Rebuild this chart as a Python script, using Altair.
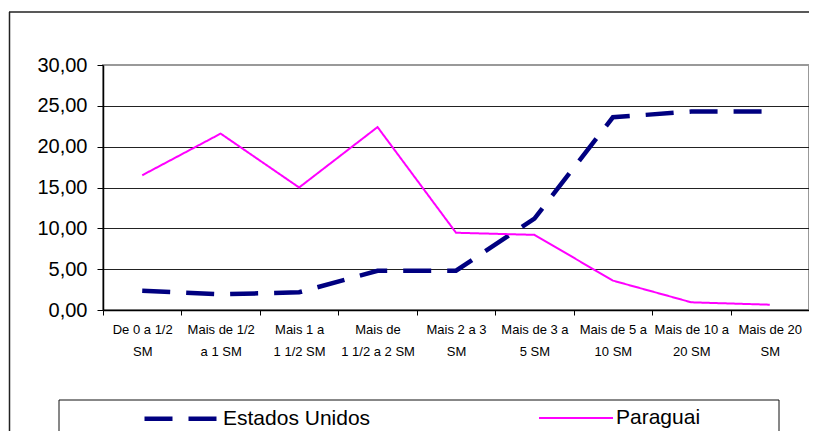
import json
import altair as alt
import pandas as pd

categories = [
    ["De 0 a 1/2", "SM"],
    ["Mais de 1/2", "a 1 SM"],
    ["Mais 1 a", "1 1/2 SM"],
    ["Mais de", "1 1/2 a 2 SM"],
    ["Mais 2 a 3", "SM"],
    ["Mais de 3 a", "5 SM"],
    ["Mais de 5 a", "10 SM"],
    ["Mais de 10 a", "20 SM"],
    ["Mais de 20", "SM"],
]
estados_unidos = [2.36, 1.92, 2.17, 4.81, 4.81, 11.2, 23.6, 24.3, 24.3]
paraguai = [16.5, 21.6, 15.0, 22.4, 9.46, 9.2, 3.6, 0.94, 0.65]
series_names = ["Estados Unidos", "Paraguai"]
y_ticks = [0, 5, 10, 15, 20, 25, 30]

rows = []
for name, vals in zip(series_names, [estados_unidos, paraguai]):
    for i, v in enumerate(vals):
        rows.append({"serie": name, "pos": i + 0.5, "valor": v})
df = pd.DataFrame(rows)

n = len(categories)
x_values = [k / 2 for k in range(2 * n + 1)]
label_expr = (
    "datum.value % 1 === 0 ? '' : "
    + json.dumps(categories, ensure_ascii=False)
    + "[floor(datum.value)]"
)

lines = alt.Chart(df).mark_line(strokeCap="butt", strokeJoin="miter").encode(
    x=alt.X(
        "pos:Q",
        scale=alt.Scale(domain=[0, n], nice=False, zero=False),
        axis=alt.Axis(
            values=x_values,
            title=None,
            grid=False,
            labelExpr=label_expr,
            labelFontSize=13,
            labelLineHeight=22,
            labelPadding=8,
            labelBaseline="top",
            labelOverlap=False,
            labelFlush=False,
            labelBound=False,
            labelColor="black",
            tickSize=5,
            tickColor="black",
            tickOpacity={"condition": {"test": "datum.value % 1 === 0", "value": 1}, "value": 0},
            domainColor="black",
            domainWidth=1.5,
        ),
    ),
    y=alt.Y(
        "valor:Q",
        scale=alt.Scale(domain=[0, 30], nice=False),
        axis=alt.Axis(
            values=y_ticks,
            title=None,
            labelExpr="replace(format(datum.value, '.2f'), '.', ',')",
            labelFontSize=20,
            labelColor="black",
            labelPadding=10,
            tickSize=6,
            tickColor="black",
            domainColor="black",
            domainWidth=1.5,
            grid=True,
            gridColor={"condition": {"test": "datum.value === 30 || datum.value === 0", "value": "transparent"}, "value": "#222222"},
            gridWidth=1,
        ),
    ),
    color=alt.Color(
        "serie:N",
        scale=alt.Scale(domain=series_names, range=["#000080", "#FF00FF"]),
        title=None,
    ),
    strokeDash=alt.StrokeDash(
        "serie:N",
        scale=alt.Scale(domain=series_names, range=[[28, 16], [1, 0]]),
        title=None,
    ),
    strokeWidth=alt.StrokeWidth(
        "serie:N",
        scale=alt.Scale(domain=series_names, range=[4.5, 2]),
        title=None,
    ),
)

deco = pd.DataFrame({"d": [0]})


def rule(x, y, x2=None, y2=None, color="black", w=1.0):
    enc = {"x": alt.value(x), "y": alt.value(y)}
    if x2 is not None:
        enc["x2"] = alt.value(x2)
    if y2 is not None:
        enc["y2"] = alt.value(y2)
    return alt.Chart(deco).mark_rule(color=color, strokeWidth=w).encode(**enc)


decorations = [
    rule(-93.5, -53, y2=420, color="#222222", w=1.5),
    rule(-94, -53, x2=800, color="#222222", w=1.5),
    rule(-44, 335, x2=676, color="#111111", w=1),
    rule(-44, 335, y2=420, color="#111111", w=1),
    rule(676, 335, y2=420, color="#111111", w=1),
]

chart = alt.layer(lines, *decorations).properties(
    width=706,
    height=245,
    autosize=alt.AutoSizeParams(type="none"),
    padding={"left": 95, "top": 57, "right": 0, "bottom": 121},
).configure(
    font="Liberation Sans",
).configure_view(
    stroke="#999999",
    strokeWidth=2,
).configure_legend(
    orient="none",
    legendX=39,
    legendY=314,
    direction="horizontal",
    symbolType="stroke",
    symbolSize=5476,
    labelFontSize=21,
    labelColor="black",
    labelOffset=2,
    columnPadding=164,
    padding=0,
    labelLimit=300,
)

chart.save("out.html", embed_options={"renderer": "svg", "actions": False})
